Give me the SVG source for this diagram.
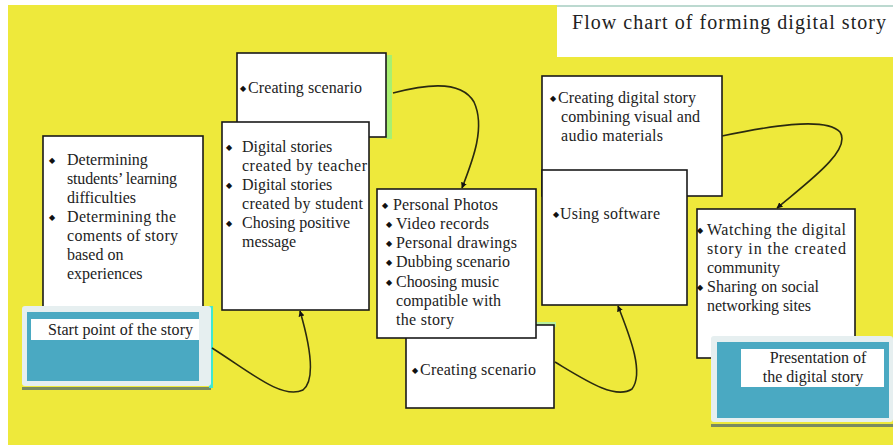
<svg xmlns="http://www.w3.org/2000/svg" width="893" height="445" viewBox="0 0 893 445">
<defs>
<style>
.bg{fill:#EEE93B}
.box{fill:#fff;stroke:#1a1a1a;stroke-width:1.6}
.t{font-family:"Liberation Serif","Times New Roman",serif;font-size:16px;fill:#222}
.b{font-family:"DejaVu Sans",sans-serif;font-size:8px;fill:#111}
.title{font-family:"Liberation Serif","Times New Roman",serif;font-size:20px;fill:#222}
.outer{fill:#E6EFF0}
.teal{fill:#4AA9C2}
.lbl{fill:#fff}
.con{fill:none;stroke:#2a2a10;stroke-width:1.6}
</style>
<marker id="arr" viewBox="0 0 10 10" refX="9" refY="5" markerWidth="6" markerHeight="6" orient="auto-start-reverse" markerUnits="userSpaceOnUse">
<path d="M0,0 L10,5 L0,10 Z" fill="#111"/>
</marker>
</defs>
<rect x="0" y="0" width="893" height="445" fill="#fff"/>
<rect class="bg" x="8" y="5" width="885" height="440"/>

<g id="title">
<rect x="557" y="5" width="336" height="52" fill="#fff"/>
<rect x="557" y="5" width="336" height="2" fill="#bcd9d0"/>
<text class="title" x="572" y="29" textLength="314">Flow chart of forming digital story</text>
</g>

<g id="node-determining">
<rect class="box" x="43" y="136" width="160" height="174"/>
<text class="b" x="49" y="163">◆</text>
<text class="t" x="67" y="165">Determining</text>
<text class="t" x="67" y="184" textLength="110">students’ learning</text>
<text class="t" x="67" y="203">difficulties</text>
<text class="b" x="49" y="220">◆</text>
<text class="t" x="67" y="222" textLength="109">Determining the</text>
<text class="t" x="67" y="241" textLength="111">coments of story</text>
<text class="t" x="67" y="260">based on</text>
<text class="t" x="67" y="279">experiences</text>
</g>

<g id="node-start">
<rect x="22" y="387" width="189" height="3" fill="#7a8a60"/>
<rect x="209" y="306" width="4" height="82" fill="#40E8D0"/>
<rect class="outer" x="22" y="306" width="189" height="80" rx="3"/>
<rect class="teal" x="27" y="312" width="172" height="69"/>
<rect class="lbl" x="31" y="319" width="168" height="21"/>
<text class="t" x="48" y="335" textLength="145">Start point of the story</text>
</g>

<g id="node-scenario-top">
<rect x="386" y="55" width="6" height="84" fill="#A8F070"/>
<rect class="box" x="237" y="53" width="149" height="84"/>
<text class="b" x="240" y="91">◆</text>
<text class="t" x="248" y="93" textLength="114">Creating scenario</text>
</g>

<g id="node-digital-stories">
<rect class="box" x="222" y="122" width="147" height="188"/>
<text class="b" x="226" y="150">◆</text>
<text class="t" x="242" y="152">Digital stories</text>
<text class="t" x="242" y="171" textLength="125">created by teacher</text>
<text class="b" x="226" y="188">◆</text>
<text class="t" x="242" y="190">Digital stories</text>
<text class="t" x="242" y="209" textLength="121">created by student</text>
<text class="b" x="226" y="226">◆</text>
<text class="t" x="242" y="228" textLength="108">Chosing positive</text>
<text class="t" x="242" y="247">message</text>
</g>

<g id="node-scenario-bottom">
<rect x="408" y="322" width="148" height="5" fill="#B8F0A0"/>
<rect class="box" x="406" y="325" width="148" height="83"/>
<text class="b" x="412" y="373">◆</text>
<text class="t" x="420" y="375" textLength="116">Creating scenario</text>
</g>

<g id="node-materials">
<rect class="box" x="377" y="189" width="159" height="149"/>
<text class="b" x="382" y="208">◆</text>
<text class="t" x="393" y="210" textLength="105">Personal Photos</text>
<text class="b" x="386" y="227">◆</text>
<text class="t" x="396" y="229" textLength="93">Video records</text>
<text class="b" x="386" y="246">◆</text>
<text class="t" x="396" y="248" textLength="121">Personal drawings</text>
<text class="b" x="386" y="265">◆</text>
<text class="t" x="396" y="267" textLength="114">Dubbing scenario</text>
<text class="b" x="386" y="285">◆</text>
<text class="t" x="396" y="287" textLength="103">Choosing music</text>
<text class="t" x="396" y="306" textLength="105">compatible with</text>
<text class="t" x="396" y="325" textLength="58">the story</text>
</g>

<g id="node-combining">
<rect class="box" x="542" y="76" width="180" height="120"/>
<text class="b" x="550" y="101">◆</text>
<text class="t" x="558" y="103" textLength="138">Creating digital story</text>
<text class="t" x="561" y="122" textLength="139">combining visual and</text>
<text class="t" x="561" y="141" textLength="102">audio materials</text>
</g>

<g id="node-software">
<rect class="box" x="542" y="170" width="145" height="135"/>
<text class="b" x="553" y="217">◆</text>
<text class="t" x="560" y="219" textLength="100">Using software</text>
</g>

<g id="node-watching">
<rect class="box" x="697" y="209" width="158" height="149"/>
<text class="b" x="697" y="233">◆</text>
<text class="t" x="707" y="235" textLength="139">Watching the digital</text>
<text class="t" x="707" y="254" textLength="139">story in the created</text>
<text class="t" x="707" y="273">community</text>
<text class="b" x="697" y="290">◆</text>
<text class="t" x="707" y="292" textLength="112">Sharing on social</text>
<text class="t" x="707" y="311" textLength="104">networking sites</text>
</g>

<g id="node-presentation">
<rect x="711" y="424" width="182" height="3" fill="#7a8a60"/>
<rect class="outer" x="711" y="336" width="182" height="86" rx="3"/>
<rect class="teal" x="717" y="342" width="172" height="76"/>
<rect class="lbl" x="741" y="349" width="143" height="38"/>
<text class="t" x="818" y="363" text-anchor="middle">Presentation of</text>
<text class="t" x="813" y="382" text-anchor="middle">the digital story</text>
</g>

<g id="connectors">
<path class="con" d="M212,348 C250,372 282,400 303,390 C318,378 307,335 300,311" marker-end="url(#arr)"/>
<path class="con" d="M393,93 C420,86 460,78 474,102 C486,128 472,162 462,188" marker-end="url(#arr)"/>
<path class="con" d="M555,362 C585,380 615,400 632,389 C645,372 628,332 618,306" marker-end="url(#arr)"/>
<path class="con" d="M722,136 C765,127 825,116 840,132 C852,150 808,182 777,208" marker-end="url(#arr)"/>
</g>
</svg>
